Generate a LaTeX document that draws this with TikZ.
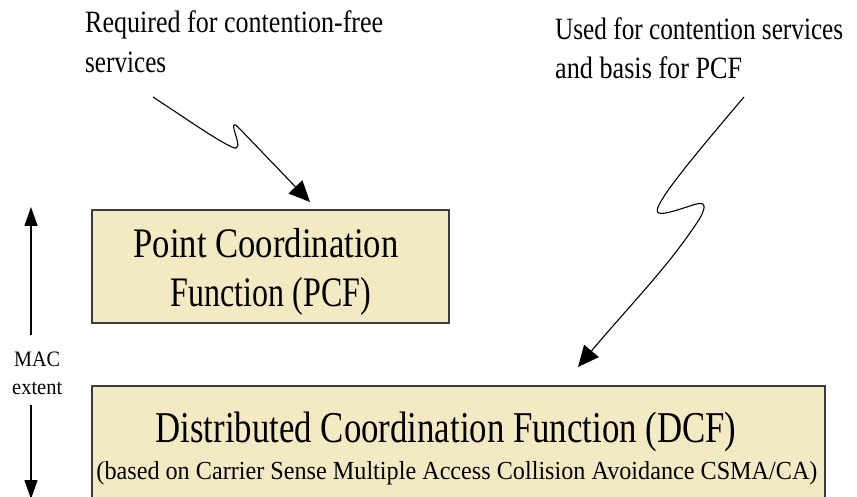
\documentclass[tikz,border=0pt]{standalone}
\usepackage{fontspec}
\setmainfont{Liberation Serif}
\usetikzlibrary{arrows.meta}
\definecolor{boxfill}{HTML}{F3E9C2}
\definecolor{boxline}{HTML}{3C3C3C}
% fit a text line to a given width, keeping its natural height
\newcommand{\fitline}[2]{\resizebox{#1}{\height}{#2}}
\tikzset{
  funcbox/.style={draw=boxline, line width=1.4pt, fill=boxfill},
  txt/.style={inner sep=0pt, anchor=base west},
  ctxt/.style={inner sep=0pt, anchor=base},
  note/.style={txt, font=\fontsize{31}{31}\selectfont},
  boxtitle/.style={ctxt, font=\fontsize{42}{42}\selectfont},
  sidelabel/.style={txt, font=\fontsize{22}{22}\selectfont},
  pointer/.style={line width=1.1pt, -{Triangle[length=21pt,width=19pt]}},
  extent/.style={line width=1.1pt, -{Triangle[length=19pt,width=13pt]}}
}
\begin{document}
\begin{tikzpicture}[x=1pt, y=-1pt]
\useasboundingbox (0,0) rectangle (857,497);
\clip (0,0) rectangle (857,497);

% function boxes
\path[funcbox] (92,210) rectangle (449,323);
\path[funcbox] (92,386) rectangle (825,530);

% box texts
\node[boxtitle] (pcf1) at (266,258) {\fitline{265pt}{Point Coordination}};
\node[boxtitle] (pcf2) at (271,306) {\fitline{200pt}{Function (PCF)}};
\node[ctxt, font=\fontsize{44}{44}\selectfont] (dcf1) at (446,442)
  {\fitline{581pt}{Distributed Coordination Function (DCF)}};
\node[ctxt, font=\fontsize{26}{26}\selectfont] (dcf2) at (457,479)
  {\fitline{721pt}{(based on Carrier Sense Multiple Access Collision Avoidance CSMA/CA)}};

% annotations
\node[note] (req1) at (85,33) {\fitline{298pt}{Required for contention-free}};
\node[note] (req2) at (85,73) {\fitline{81pt}{services}};
\node[note] (used1) at (555,40) {\fitline{288pt}{Used for contention services}};
\node[note] (used2) at (555,79) {\fitline{187pt}{and basis for PCF}};

% MAC extent marker
\node[sidelabel] (mac) at (14,366) {\fitline{46pt}{MAC}};
\node[sidelabel] (ext) at (12,394) {\fitline{50pt}{extent}};
\coordinate (upfrom) at (31,335);
\coordinate (upto) at (31,207);
\coordinate (downfrom) at (31,405);
\coordinate (downto) at (31,499);
\draw[extent] (upfrom) -- (upto);
\draw[extent] (downfrom) -- (downto);

% zig-zag pointers
\coordinate (p1start) at (153,97);
\coordinate (p1tip) at (310,202);
\draw[pointer] (p1start) .. controls (185,118) and (218,141) .. (232,147)
  .. controls (240,151) and (238,143) .. (236,136)
  .. controls (233,127) and (232,121) .. (238,127)
  -- (p1tip);

\coordinate (p2start) at (744,97);
\coordinate (p2tip) at (578,367);
\draw[pointer] (p2start) .. controls (705,143) and (667,188) .. (659,205)
  .. controls (652,218) and (665,214) .. (690,206)
  .. controls (706,200) and (707,205) .. (700,218)
  .. controls (670,265) and (630,305) .. (p2tip);
\end{tikzpicture}
\end{document}
